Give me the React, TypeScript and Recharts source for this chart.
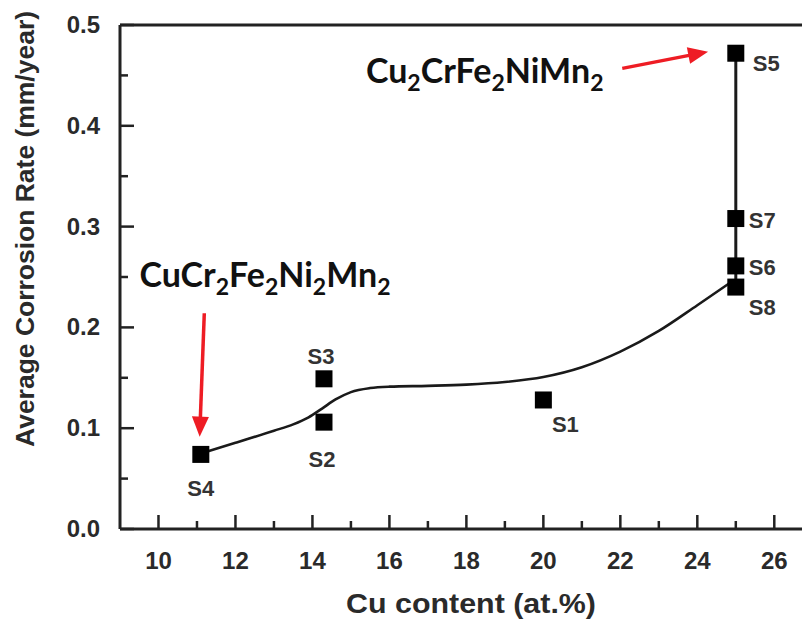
import {
	ComposedChart,
	Line,
	ReferenceDot,
	ReferenceLine,
	Scatter,
	XAxis,
	YAxis,
} from "recharts";

// Samples
const sampleNames = ["S1", "S2", "S3", "S4", "S5", "S6", "S7", "S8"];
const cuContent = [20, 14.3, 14.3, 11.1, 25, 25, 25, 25];
const corrosionRate = [0.128, 0.106, 0.149, 0.074, 0.472, 0.261, 0.308, 0.24];

// Hand-drawn fit curve
const fitCu = [
	11.1, 12, 13, 13.5, 13.9, 14.25, 14.6, 15, 15.5, 16, 17, 18, 19, 20, 21, 22,
	23, 24, 24.88,
];
const fitRate = [
	0.075, 0.0855, 0.0975, 0.1038, 0.1108, 0.1195, 0.1285, 0.1358, 0.1398,
	0.1412, 0.142, 0.1432, 0.1458, 0.1508, 0.1605, 0.176, 0.1965, 0.222, 0.245,
];

// Vertical connector S8 -> S5
const connectorCu = [25, 25];
const connectorRate = [0.24, 0.472];

const xTicks = [10, 11, 12, 13, 14, 15, 16, 17, 18, 19, 20, 21, 22, 23, 24, 25, 26];
const yTicks = [0, 0.05, 0.1, 0.15, 0.2, 0.25, 0.3, 0.35, 0.4, 0.45, 0.5];

const formulaTop = ["Cu", "2", "CrFe", "2", "NiMn", "2"];
const formulaLeft = ["CuCr", "2", "Fe", "2", "Ni", "2", "Mn", "2"];

const AXIS = "#222";
const RED = "#ee1c24";
const SANS = "'Liberation Sans', Arial, sans-serif";

// label placement around each square: [dx, dy, anchor]
const labelPlacement: Record<string, [number, number, string]> = {
	S1: [22, 25, "middle"],
	S2: [-2, 37, "middle"],
	S3: [-3, -22, "middle"],
	S4: [0, 34, "middle"],
	S5: [17, 10, "start"],
	S6: [13, 2, "start"],
	S7: [13, 2, "start"],
	S8: [13, 20, "start"],
};

const samples = sampleNames.map((name, i) => ({
	name,
	cu: cuContent[i],
	rate: corrosionRate[i],
}));
const fitData = fitCu.map((cu, i) => ({ cu, rate: fitRate[i] }));
const connectorData = connectorCu.map((cu, i) => ({ cu, rate: connectorRate[i] }));

function XTick({ x, y, payload }: any) {
	const major = payload.value % 2 === 0;
	return (
		<g>
			<line x1={x} x2={x} y1={y} y2={y - (major ? 14 : 8)} stroke={AXIS} strokeWidth={2.5} />
			{major && (
				<text x={x} y={y + 40} textAnchor="middle" fontFamily={SANS} fontWeight={700} fontSize={24} fill="#2a2a2a">
					{payload.value}
				</text>
			)}
		</g>
	);
}

function YTick({ x, y, payload }: any) {
	const v = payload.value;
	const major = Math.abs(Math.round(v * 10) - v * 10) < 1e-6;
	return (
		<g>
			<line x1={x} x2={x + (major ? 14 : 8)} y1={y} y2={y} stroke={AXIS} strokeWidth={2.5} />
			{major && (
				<text x={x - 20} y={y + 8} textAnchor="end" fontFamily={SANS} fontWeight={700} fontSize={24} fill="#2a2a2a">
					{v.toFixed(1)}
				</text>
			)}
		</g>
	);
}

function Square({ cx, cy, payload }: any) {
	const [dx, dy, anchor] = labelPlacement[payload.name];
	return (
		<g>
			<rect x={cx - 8.5} y={cy - 8.5} width={17} height={17} fill="#000" />
			<text
				x={cx + dx}
				y={cy + dy}
				textAnchor={anchor}
				dominantBaseline="central"
				fontFamily={SANS}
				fontWeight={700}
				fontSize={22}
				fill="#333"
			>
				{payload.name}
			</text>
		</g>
	);
}

function Arrow({ x1, y1, x2, y2 }: any) {
	const len = Math.hypot(x2 - x1, y2 - y1);
	const ux = (x2 - x1) / len;
	const uy = (y2 - y1) / len;
	const head = 20;
	const half = 8.5;
	const bx = x2 - ux * head;
	const by = y2 - uy * head;
	return (
		<g>
			<line x1={x1} y1={y1} x2={bx + ux * 2} y2={by + uy * 2} stroke={RED} strokeWidth={3.5} />
			<polygon
				points={`${x2},${y2} ${bx - uy * half},${by + ux * half} ${bx + uy * half},${by - ux * half}`}
				fill={RED}
			/>
		</g>
	);
}

function Formula({ viewBox, parts }: any) {
	let shifted = false;
	return (
		<text x={viewBox.x} y={viewBox.y} fontFamily="Lato, 'Open Sans', sans-serif" fontWeight={700} fontSize={34} fill="#111">
			{parts.map((t: string, i: number) => {
				const sub = i % 2 === 1;
				const dy = sub ? 8 : shifted ? -8 : 0;
				shifted = sub;
				return (
					<tspan key={i} dy={dy} fontSize={sub ? 23 : 34}>
						{t}
					</tspan>
				);
			})}
		</text>
	);
}

export default function App() {
	return (
		<div style={{ position: "absolute", left: 0, top: 0, width: 802, height: 620, background: "#fff" }}>
			<ComposedChart width={802} height={620} margin={{ top: 25, right: 0, bottom: 0, left: 0 }}>
				<XAxis
					type="number"
					dataKey="cu"
					domain={[9, 26.72]}
					allowDataOverflow
					ticks={xTicks}
					interval={0}
					tickSize={0}
					tickMargin={0}
					tick={<XTick />}
					height={91}
					axisLine={{ stroke: AXIS, strokeWidth: 3 }}
					label={(p: any) => (
						<text
							x={p.viewBox.x + 351}
							y={p.viewBox.y + 84}
							textAnchor="middle"
							fontFamily={SANS}
							fontWeight={700}
							fontSize={27}
							textLength={250}
							lengthAdjust="spacingAndGlyphs"
							fill="#2a2a2a"
						>
							Cu content (at.%)
						</text>
					)}
				/>
				<YAxis
					type="number"
					dataKey="rate"
					domain={[0, 0.5]}
					ticks={yTicks}
					interval={0}
					tickSize={0}
					tickMargin={0}
					tick={<YTick />}
					width={120}
					axisLine={{ stroke: AXIS, strokeWidth: 3 }}
					label={(p: any) => (
						<text
							transform={`translate(34, ${p.viewBox.y + 204}) rotate(-90)`}
							textAnchor="middle"
							fontFamily={SANS}
							fontWeight={700}
							fontSize={26}
							textLength={436}
							lengthAdjust="spacingAndGlyphs"
							fill="#2a2a2a"
						>
							Average Corrosion Rate (mm/year)
						</text>
					)}
				/>
				<ReferenceLine y={0.5} stroke={AXIS} strokeWidth={3} />
				<Line
					data={fitData}
					dataKey="rate"
					type="monotone"
					stroke="#1a1a1a"
					strokeWidth={2.6}
					dot={false}
					isAnimationActive={false}
				/>
				<Line
					data={connectorData}
					dataKey="rate"
					type="linear"
					stroke="#1a1a1a"
					strokeWidth={3}
					dot={false}
					isAnimationActive={false}
				/>
				<Scatter data={samples} dataKey="rate" shape={<Square />} isAnimationActive={false} />
				<ReferenceLine
					segment={[
						{ x: 22.05, y: 0.457 },
						{ x: 24.28, y: 0.4735 },
					]}
					shape={(p: any) => <Arrow {...p} />}
				/>
				<ReferenceLine
					segment={[
						{ x: 11.19, y: 0.214 },
						{ x: 11.07, y: 0.0916 },
					]}
					shape={(p: any) => <Arrow {...p} />}
				/>
				<ReferenceDot
					x={15.39}
					y={0.4425}
					r={0}
					fill="none"
					stroke="none"
					label={(p: any) => <Formula viewBox={p.viewBox} parts={formulaTop} />}
				/>
				<ReferenceDot
					x={9.505}
					y={0.24}
					r={0}
					fill="none"
					stroke="none"
					label={(p: any) => <Formula viewBox={p.viewBox} parts={formulaLeft} />}
				/>
			</ComposedChart>
		</div>
	);
}
